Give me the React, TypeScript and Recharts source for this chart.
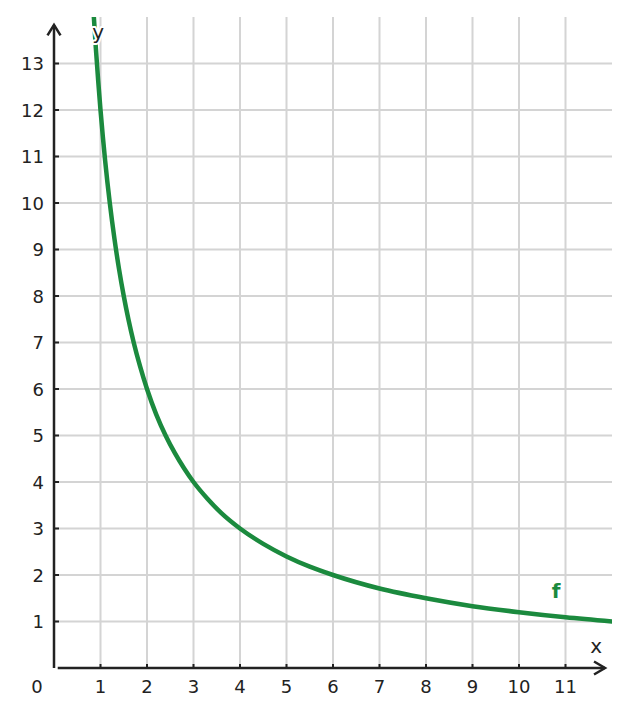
import React from "react";
import { LineChart, Line, XAxis, YAxis, ReferenceLine, ReferenceDot } from "recharts";

const curveX = [0.857, 0.9, 0.95, 1, 1.05, 1.1, 1.2, 1.3, 1.4, 1.5, 1.6, 1.714, 1.85, 2, 2.2, 2.4, 2.6, 2.8, 3, 3.3, 3.6, 4, 4.5, 5, 5.5, 6, 7, 8, 9, 10, 11, 12];
const curveY = [14, 13.33, 12.63, 12, 11.43, 10.91, 10, 9.23, 8.57, 8, 7.5, 7, 6.49, 6, 5.45, 5, 4.62, 4.29, 4, 3.64, 3.33, 3, 2.67, 2.4, 2.18, 2, 1.71, 1.5, 1.33, 1.2, 1.09, 1];
const xTicks = [0, 1, 2, 3, 4, 5, 6, 7, 8, 9, 10, 11];
const yTicks = [1, 2, 3, 4, 5, 6, 7, 8, 9, 10, 11, 12, 13];
const xGrid = [1, 2, 3, 4, 5, 6, 7, 8, 9, 10, 11];
const yGrid = [1, 2, 3, 4, 5, 6, 7, 8, 9, 10, 11, 12, 13];

const data = curveX.map((x, i) => ({ x, y: curveY[i] }));

const AX = "#222222";
const GRID = "#d4d4d4";
const GREEN = "#1b8a3e";
const FONT = "DejaVu Sans";

const XTick = (props: any) => {
  const { x, y, payload } = props;
  const v = payload.value;
  if (v === 0) {
    return (
      <text x={x - 17} y={y + 25} textAnchor="middle" fontFamily={FONT} fontSize={18} fill={AX}>0</text>
    );
  }
  return (
    <g>
      <line x1={x} x2={x} y1={y} y2={y - 4} stroke={AX} strokeWidth={2} />
      <text x={x} y={y + 25} textAnchor="middle" fontFamily={FONT} fontSize={18} fill={AX}>{v}</text>
    </g>
  );
};

const YTick = (props: any) => {
  const { x, y, payload } = props;
  return (
    <g>
      <line x1={x} x2={x + 5} y1={y} y2={y} stroke={AX} strokeWidth={2} />
      <text x={x - 10} y={y + 6.5} textAnchor="end" fontFamily={FONT} fontSize={18} fill={AX}>{payload.value}</text>
    </g>
  );
};

export default function App() {
  return (
    <div style={{ position: "absolute", left: 0, top: 0, background: "#fff" }}>
      <LineChart width={629} height={716} data={data} margin={{ top: 17, right: 17, bottom: 0, left: 0 }}>
        <XAxis
          dataKey="x"
          type="number"
          domain={[0, 12]}
          ticks={xTicks}
          allowDataOverflow
          axisLine={false}
          tickLine={false}
          tickSize={0}
          tickMargin={0}
          height={48}
          tick={<XTick />}
          interval={0}
        />
        <YAxis
          type="number"
          domain={[0, 14]}
          ticks={yTicks}
          allowDataOverflow
          axisLine={false}
          tickLine={false}
          tickSize={0}
          tickMargin={0}
          width={54}
          tick={<YTick />}
          interval={0}
        />
        {xGrid.map((v) => (
          <ReferenceLine key={"gx" + v} x={v} stroke={GRID} strokeWidth={2} />
        ))}
        {yGrid.map((v) => (
          <ReferenceLine key={"gy" + v} y={v} stroke={GRID} strokeWidth={2} />
        ))}
        <Line
          dataKey="y"
          type="monotone"
          stroke={GREEN}
          strokeWidth={4.5}
          dot={false}
          strokeLinecap="round"
          isAnimationActive={false}
        />
        <ReferenceLine segment={[{ x: 0, y: 0 }, { x: 0, y: 13.83 }]} stroke={AX} strokeWidth={2.5} />
        <ReferenceLine segment={[{ x: 0.08, y: 0 }, { x: 11.85, y: 0 }]} stroke={AX} strokeWidth={2.5} />
        <ReferenceDot
          x={0}
          y={13.83}
          r={1}
          shape={(p: any) => (
            <path d={`M${p.cx - 6.5},${p.cy + 10.5} L${p.cx},${p.cy} L${p.cx + 6.5},${p.cy + 10.5}`} fill="none" stroke={AX} strokeWidth={2.5} />
          )}
        />
        <ReferenceDot
          x={11.85}
          y={0}
          r={1}
          shape={(p: any) => (
            <path d={`M${p.cx - 11},${p.cy - 6.5} L${p.cx},${p.cy} L${p.cx - 11},${p.cy + 6.5}`} fill="none" stroke={AX} strokeWidth={2.5} />
          )}
        />
        <ReferenceDot
          x={0.95}
          y={13.65}
          r={1}
          shape={(p: any) => (
            <text x={p.cx} y={p.cy + 6} textAnchor="middle" fontFamily={FONT} fontSize={20} fill={AX} stroke="#fff" strokeWidth={4} paintOrder="stroke" strokeLinejoin="round">y</text>
          )}
        />
        <ReferenceDot
          x={11.66}
          y={0.45}
          r={1}
          shape={(p: any) => (
            <text x={p.cx} y={p.cy + 6} textAnchor="middle" fontFamily={FONT} fontSize={20} fill={AX}>x</text>
          )}
        />
        <ReferenceDot
          x={10.8}
          y={1.65}
          r={1}
          shape={(p: any) => (
            <text x={p.cx} y={p.cy + 7} textAnchor="middle" fontFamily={FONT} fontSize={20} fontWeight="bold" fill={GREEN}>f</text>
          )}
        />
      </LineChart>
    </div>
  );
}
